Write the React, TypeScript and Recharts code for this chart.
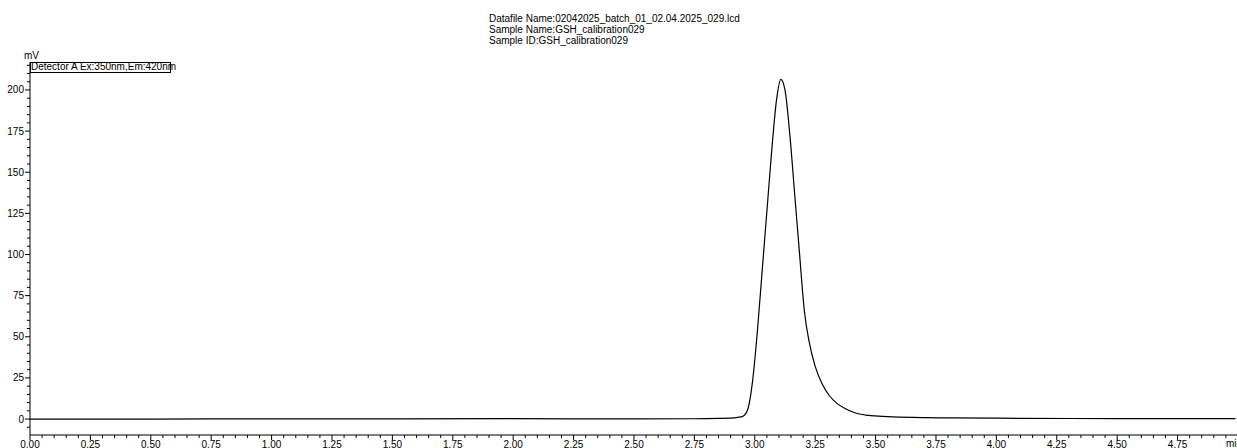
import { Line, LineChart, XAxis, YAxis } from "recharts";

const times = [
  0, 0.5, 1.0, 1.5, 2.0, 2.5, 2.8, 2.9, 2.93, 2.95, 2.97, 2.99, 3.01, 3.03, 3.05, 3.07, 3.09, 3.108,
  3.125, 3.145, 3.165, 3.185, 3.205, 3.225, 3.25, 3.28, 3.31, 3.34, 3.38, 3.42, 3.47, 3.55, 3.65, 3.8,
  4.0, 4.5, 4.99,
];
const signal = [
  0.0, 0.0, 0.1, 0.1, 0.2, 0.1, 0.2, 0.5, 1.0, 1.6, 5.5, 22, 52, 89, 126, 163, 194, 206.5,
  200, 173, 137, 101, 66, 47, 32, 21, 14, 9.5, 6, 3.5, 2.2, 1.5, 1.0, 0.7,
  0.5, 0.3, 0.3,
];

const xLabels = ["0.00", "0.25", "0.50", "0.75", "1.00", "1.25", "1.50", "1.75", "2.00", "2.25", "2.50", "2.75", "3.00", "3.25", "3.50", "3.75", "4.00", "4.25", "4.50", "4.75"];
const yLabels = [0, 25, 50, 75, 100, 125, 150, 175, 200];

const headerLines = [
  "Datafile Name:02042025_batch_01_02.04.2025_029.lcd",
  "Sample Name:GSH_calibration029",
  "Sample ID:GSH_calibration029",
];

const data = times.map((t, i) => ({ t, v: signal[i] }));

// minor ticks every 0.05 min / 5 mV
const xTicks: number[] = [];
for (let i = 0; i <= 99; i++) xTicks.push(Math.round(i * 5) / 100);
const yTicks: number[] = [];
for (let v = -5; v <= 215; v += 5) yTicks.push(v);

const font = "Arial, 'Liberation Sans', sans-serif";

const XTick = (props: any) => {
  const { x, y, payload } = props;
  const val = payload.value as number;
  const major = Math.round(val * 100) % 25 === 0;
  const label = xLabels.find((l) => Math.abs(parseFloat(l) - val) < 1e-6);
  return (
    <g>
      <line x1={x} x2={x} y1={y} y2={y + (major ? 5 : 3)} stroke="#000" />
      {major && label && (
        <text x={x} y={y + 13} textAnchor="middle" fontSize={10} fontFamily={font} fill="#000">
          {label}
        </text>
      )}
    </g>
  );
};

const YTick = (props: any) => {
  const { x, y, payload } = props;
  const val = payload.value as number;
  const major = yLabels.includes(val);
  return (
    <g>
      <line x1={x - (major ? 5 : 3)} x2={x} y1={y} y2={y} stroke="#000" />
      {major && (
        <text x={x - 6} y={y + 3.5} textAnchor="end" fontSize={10} fontFamily={font} fill="#000">
          {val}
        </text>
      )}
    </g>
  );
};

export default function App() {
  return (
    <div style={{ position: "relative", width: 1237, height: 448, background: "#fff", overflow: "hidden", fontFamily: font }}>
      <style>{`body{margin:0}`}</style>
      <div style={{ position: "absolute", left: 489, top: 13, fontSize: 10, lineHeight: "11px", color: "#000" }}>
        {headerLines.map((l) => (
          <div key={l}>{l}</div>
        ))}
      </div>
      <LineChart width={1237} height={448} data={data} margin={{ top: 62, right: 0, left: 0, bottom: 0 }}>
        <XAxis
          dataKey="t"
          type="number"
          domain={[0, 4.996]}
          ticks={xTicks}
          interval={0}
          tick={<XTick />}
          tickLine={false}
          tickSize={0}
          tickMargin={0}
          height={13}
          axisLine={{ stroke: "#000" }}
          allowDataOverflow
        />
        <XAxis
          xAxisId="top"
          orientation="top"
          dataKey="t"
          type="number"
          domain={[0, 4.996]}
          tick={false}
          tickLine={false}
          height={0}
          axisLine={{ stroke: "#333", strokeWidth: 1.5 }}
        />
        <YAxis
          type="number"
          domain={[-9.7, 217]}
          ticks={yTicks}
          interval={0}
          tick={<YTick />}
          tickLine={false}
          tickSize={0}
          tickMargin={0}
          width={30}
          axisLine={{ stroke: "#000" }}
          allowDataOverflow
        />
        <Line
          dataKey="v"
          type="monotone"
          stroke="#000"
          strokeWidth={1.2}
          dot={false}
          isAnimationActive={false}
        />
      </LineChart>
      <div style={{ position: "absolute", left: 24, top: 51, fontSize: 10, lineHeight: "10px" }}>mV</div>
      <div
        style={{
          position: "absolute",
          left: 30,
          top: 62,
          width: 141,
          height: 11,
          border: "1px solid #000",
          boxSizing: "border-box",
        }}
      />
      <div style={{ position: "absolute", left: 31, top: 62, fontSize: 10, lineHeight: "10px", whiteSpace: "nowrap" }}>
        Detector A Ex:350nm,Em:420nm
      </div>
      <div style={{ position: "absolute", left: 1226, top: 438, fontSize: 10, lineHeight: "11px" }}>min</div>
    </div>
  );
}
